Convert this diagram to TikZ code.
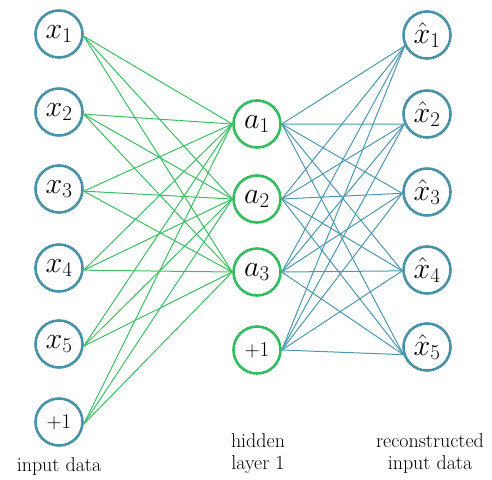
\RequirePackage{fix-cm}
\documentclass[tikz,border=0pt]{standalone}
\usepackage{tikz}
\definecolor{cblue}{RGB}{72,146,168}
\definecolor{cgreen}{RGB}{52,188,96}
\definecolor{lgreen}{RGB}{58,192,100}
\definecolor{lblue}{RGB}{76,152,172}
\begin{document}
\begin{tikzpicture}[x=1pt,y=-1pt,
  neuron/.style={circle,line width=2.6pt,minimum size=47pt,inner sep=0pt,fill=white},
  inb/.style={neuron,draw=cblue},
  hid/.style={neuron,draw=cgreen},
  outb/.style={neuron,draw=cblue},
  mathlbl/.style={font=\fontsize{30}{30}\selectfont},
  onelbl/.style={font=\fontsize{21}{21}\selectfont},
  caption/.style={font=\fontsize{20}{22}\selectfont,align=center},
  gline/.style={draw=lgreen,line width=1pt},
  bline/.style={draw=lblue,line width=1pt}]
\useasboundingbox (0,0) rectangle (492,479);
% input layer
\node[inb,mathlbl] (x1) at (59,34) {$x_1$};
\node[inb,mathlbl] (x2) at (59,112) {$x_2$};
\node[inb,mathlbl] (x3) at (59,189) {$x_3$};
\node[inb,mathlbl] (x4) at (59,268) {$x_4$};
\node[inb,mathlbl] (x5) at (59,344) {$x_5$};
\node[inb,onelbl] (x6) at (59,422) {+1};
% hidden layer
\node[hid,mathlbl] (a1) at (257,124) {$a_1$};
\node[hid,mathlbl] (a2) at (257,199) {$a_2$};
\node[hid,mathlbl] (a3) at (257,272) {$a_3$};
\node[hid,onelbl] (a4) at (257,350) {+1};
% output layer
\node[outb,mathlbl] (r1) at (427,35) {$\hat{x}_1$};
\node[outb,mathlbl] (r2) at (427,114) {$\hat{x}_2$};
\node[outb,mathlbl] (r3) at (427,192) {$\hat{x}_3$};
\node[outb,mathlbl] (r4) at (427,270) {$\hat{x}_4$};
\node[outb,mathlbl] (r5) at (427,347) {$\hat{x}_5$};
% connection points on output nodes
\coordinate (r1in) at (r1.206);
\coordinate (r2in) at (r2.204);
\coordinate (r3in) at (r3.183);
\coordinate (r4in) at (r4.182);
\coordinate (r5in) at (r5.198);
% connectors
\foreach \i in {1,...,6}{
  \foreach \j in {1,2,3}{
    \draw[gline] (x\i.-5) -- (a\j.west);
  }
}
\foreach \j in {1,...,4}{
  \foreach \k in {1,...,5}{
    \draw[bline] (a\j.east) -- (r\k in);
  }
}
% captions
\node[caption] (c1) at (59,467) {input data};
\node[caption] (c2) at (258,454) {hidden\\layer 1};
\node[caption] (c3) at (430,454) {reconstructed\\input data};
\end{tikzpicture}
\end{document}
